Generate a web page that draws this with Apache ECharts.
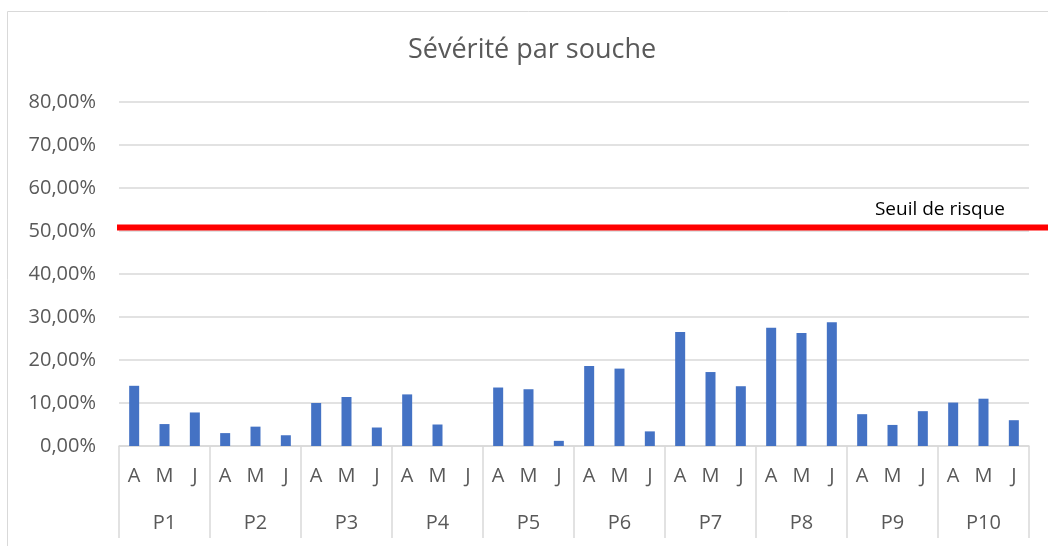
<!DOCTYPE html>
<html>
<head>
<meta charset="utf-8">
<script src="https://cdn.jsdelivr.net/npm/echarts@6/dist/echarts.min.js"></script>
<style>
  html, body { margin: 0; padding: 0; background: #fff; }
  #main { width: 1048px; height: 546px; }
</style>
</head>
<body>
<div id="main"></div>
<script>
// données (en %)
var groups = ["P1", "P2", "P3", "P4", "P5", "P6", "P7", "P8", "P9", "P10"];
var months = ["A", "M", "J"];
var severite = [
  14.0, 5.1, 7.8,
  3.0, 4.5, 2.5,
  10.0, 11.4, 4.3,
  12.0, 5.0, 0,
  13.6, 13.2, 1.2,
  18.6, 18.0, 3.4,
  26.5, 17.2, 13.9,
  27.5, 26.3, 28.8,
  7.4, 4.9, 8.1,
  10.1, 11.0, 6.0
];
var seuil = 50.8;
var yTicks = [0, 10, 20, 30, 40, 50, 60, 70, 80];

var textColor = "#595959";
var gridColor = "#d9d9d9";
var font = "Open Sans";

// une étiquette A/M/J par barre
var monthLabels = [];
groups.forEach(function () {
  months.forEach(function (m) { monthLabels.push(m); });
});

var myChart = echarts.init(document.getElementById("main"));

var option = {
  animation: false,
  textStyle: { fontFamily: font },
  title: {
    text: "Sévérité par souche",
    left: 403,
    top: 32,
    textStyle: { fontFamily: font, fontSize: 27, fontWeight: "normal", color: textColor }
  },
  graphic: [
    {
      type: "rect",
      shape: { x: 7.5, y: 11.5, width: 1100, height: 600 },
      style: { fill: "none", stroke: gridColor, lineWidth: 1 },
      silent: true
    }
  ],
  grid: [
    { left: 119, right: 19, top: 102, bottom: 100 },
    { left: 117, right: 0, top: 102, bottom: 100 }
  ],
  xAxis: [
    {
      type: "category",
      gridIndex: 0,
      data: monthLabels,
      position: "bottom",
      axisLine: { lineStyle: { color: gridColor, width: 1.5 } },
      axisTick: { show: false },
      axisLabel: { color: textColor, fontSize: 20, margin: 20, interval: 0 }
    },
    {
      type: "category",
      gridIndex: 0,
      data: groups,
      position: "bottom",
      axisLine: { show: false },
      axisTick: { show: true, length: 92, lineStyle: { color: gridColor, width: 1.5 } },
      axisLabel: { color: textColor, fontSize: 20, margin: 67, interval: 0 },
      splitLine: { show: false }
    },
    {
      type: "value",
      gridIndex: 1,
      min: 0,
      max: 1,
      show: false
    }
  ],
  yAxis: [
    {
      type: "value",
      gridIndex: 0,
      min: 0,
      max: yTicks[yTicks.length - 1],
      interval: yTicks[1] - yTicks[0],
      axisLine: { show: false },
      axisTick: { show: false },
      axisLabel: {
        color: textColor,
        fontSize: 20,
        margin: 23,
        formatter: function (v) { return v.toFixed(2).replace(".", ",") + "%"; }
      },
      splitLine: { lineStyle: { color: gridColor, width: 1.5 } }
    },
    {
      type: "value",
      gridIndex: 1,
      min: 0,
      max: yTicks[yTicks.length - 1],
      show: false
    }
  ],
  series: [
    {
      name: "Sévérité",
      type: "bar",
      xAxisIndex: 0,
      yAxisIndex: 0,
      data: severite,
      barWidth: 10,
      itemStyle: { color: "#4472C4" }
    },
    {
      name: "Seuil de risque",
      type: "line",
      xAxisIndex: 2,
      yAxisIndex: 1,
      symbol: "none",
      lineStyle: { color: "#ff0000", width: 6 },
      data: [[0, seuil], [1, seuil]],
      endLabel: {
        show: true,
        formatter: "Seuil de risque",
        align: "right",
        verticalAlign: "bottom",
        offset: [-51, -8],
        color: "#000",
        fontSize: 19,
        fontFamily: font
      }
    }
  ]
};

myChart.setOption(option);
</script>
</body>
</html>
